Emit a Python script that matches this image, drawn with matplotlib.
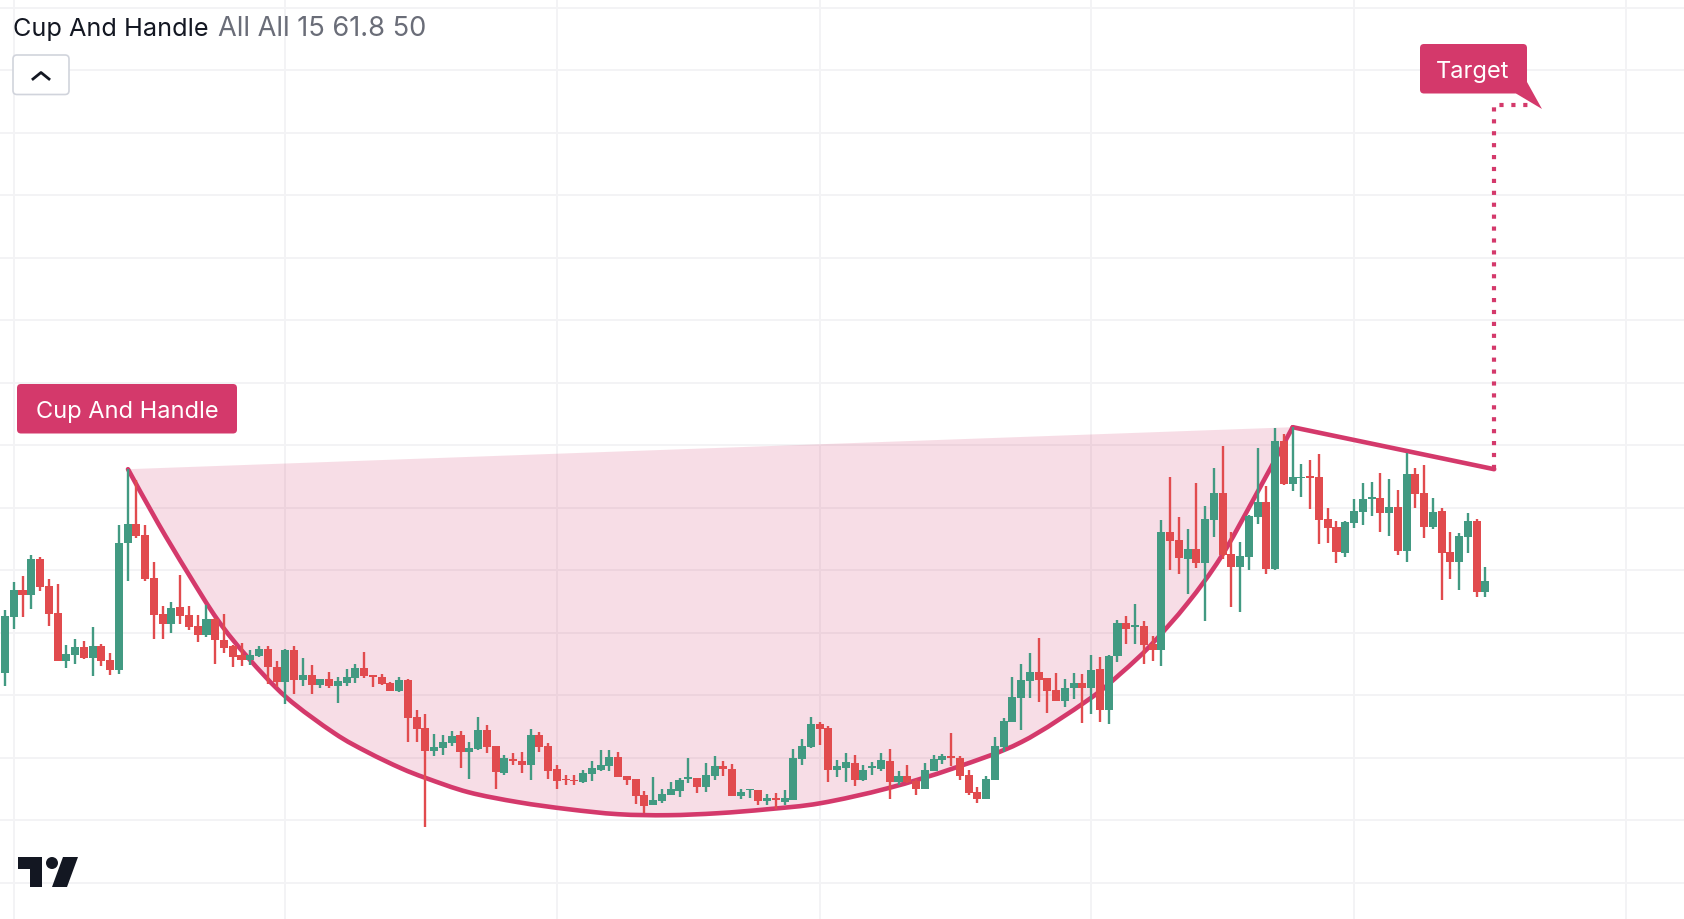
import matplotlib
matplotlib.use("Agg")
import matplotlib.pyplot as plt
from matplotlib.patches import FancyBboxPatch, Polygon, Circle, PathPatch
from matplotlib.path import Path

W, H = 1684, 920

# Candles: open, high, low, close on the chart's own price scale
opens = [247,303,330,325,361,334,307,259,265,273,262,274,260,250,377,396,385,342,306,296,313,305,294,285,301,280,274,265,260,264,
         271,253,238,270,240,245,235,241,234,237,242,252,245,243,237,229,240,203,192,169,172,177,185,168,171,190,174,147,161,159,
         155,185,174,151,141,140,138,146,150,154,163,144,141,125,115,119,125,129,141,142,133,144,154,151,124,130,130,119,122,118,
         120,161,173,196,192,150,152,157,140,152,151,159,138,144,139,131,149,160,164,162,145,128,121,140,173,198,222,239,248,242,
         230,219,232,237,232,251,210,264,297,293,294,276,270,388,380,361,371,357,400,427,366,353,363,403,418,351,479,436,442,444,
         443,401,393,367,397,408,421,422,407,413,369,446,427,393,409,368,358,383,399,328]
highs = [310,338,344,365,363,341,336,275,281,279,293,276,267,395,451,440,395,358,314,318,345,314,305,315,302,306,275,277,270,274,
         274,259,271,274,262,255,241,248,243,251,256,268,245,246,238,243,241,210,206,186,185,189,189,178,203,195,174,165,167,168,
         191,188,177,155,145,145,150,159,170,170,168,144,141,129,143,131,138,142,162,142,157,164,159,156,131,131,130,126,127,130,
         171,181,203,198,194,160,167,165,155,158,167,171,149,155,141,157,165,166,187,164,150,133,144,183,202,243,256,267,282,242,
         247,241,247,246,265,263,265,300,304,316,299,284,400,443,403,391,437,414,452,474,388,378,405,472,434,492,486,493,456,460,
         466,412,399,399,421,437,438,447,441,430,467,452,455,422,412,388,387,407,401,353]
lows = [234,291,303,311,329,294,259,252,256,261,244,254,245,246,339,382,339,281,281,287,296,290,278,283,256,267,253,254,255,263,
        236,233,216,226,234,226,232,232,217,234,237,242,233,235,229,228,178,178,93,164,165,174,152,141,170,167,131,145,155,147,
        140,168,141,131,135,135,137,139,149,149,143,135,116,107,115,117,125,123,137,127,128,140,144,124,121,122,115,115,111,115,
        120,155,172,175,138,143,138,134,139,145,149,121,135,137,125,131,149,156,154,140,125,117,121,140,168,198,190,222,218,207,
        219,213,221,197,206,198,196,258,276,276,256,259,254,350,346,326,352,299,383,361,313,308,350,396,346,350,435,429,423,411,
        376,377,357,363,392,395,404,388,384,365,358,412,382,391,320,341,330,367,323,323]
closes = [304,330,325,361,333,306,259,266,273,262,274,259,250,377,396,384,341,305,296,312,304,293,285,301,280,272,263,260,265,271,
          253,238,270,240,245,235,241,234,239,243,252,244,243,236,229,240,202,191,169,173,178,184,168,172,190,173,148,162,159,155,
          185,173,149,139,140,139,147,152,155,163,143,140,124,114,120,126,131,140,143,133,145,154,151,124,128,131,119,122,120,122,
          162,174,196,191,150,154,158,140,150,154,160,138,144,138,131,150,161,164,162,144,127,121,141,174,199,223,240,248,240,229,
          219,232,237,232,250,210,264,297,291,295,275,270,388,379,362,371,357,401,427,365,353,364,404,418,351,479,436,443,443,442,
          400,392,368,398,409,421,423,407,413,369,446,426,393,408,367,358,384,399,328,339]

# Pattern: cup curve, handle and target (bar number, price)
cup_bars = [14.04,17.47,20.89,24.3,27.7,32.1,37.6,41.4,45.2,48.1,52.9,58.6,64.3,70,75.7,81.4,87.1,93.1,100.8,108.3,116,123.6,
            127.4,130.8,135,138.8,142.6,147]
cup_prices = [451,397,347,300,263,223,187,168,152,142,128,118,111,106,105,107,111,117,132,152,178,220,247,275,317,363,422,493]
handle_bars = [147, 170]
handle_prices = [493, 451]
target_bars = [170, 170, 174.4]
target_prices = [451, 815, 815]

# Grid
grid_bars = [1, 32, 63, 93, 124, 154, 185]
grid_prices = [37.5, 100, 162.5, 225, 287.5, 350, 412.5, 475, 537.5, 600, 662.5, 725, 787.5, 850, 912.5]

# Text
title = "Cup And Handle"
params = "All All 15 61.8 50"
label_pattern = "Cup And Handle"
label_target = "Target"

GREEN, RED = "#429A82", "#E14B4E"
PINK = "#D4396B"
GRID = "#F3F3F5"
INK = "#131722"

plt.rcParams["font.family"] = ["Inter", "DejaVu Sans"]
fig = plt.figure(figsize=(W / 100, H / 100), dpi=100)
ax = fig.add_axes([0, 0, 1, 1])
ax.set_xlim(-0.57, 191.67)
ax.set_ylim(1.2, 921.2)
ax.set_xticks(grid_bars)
ax.set_yticks(grid_prices)
ax.tick_params(length=0, labelleft=False, labelbottom=False)
ax.grid(True, color=GRID, lw=1.4, zorder=0)
ax.set_axisbelow(True)
for s in ax.spines.values():
    s.set_visible(False)


def smooth_path(xs, ys, close=False):
    """Smooth curve through the read points, as cubic Bezier segments."""
    pts = list(zip(xs, ys))
    verts = [pts[0]]
    codes = [Path.MOVETO]
    n = len(pts)
    for i in range(n - 1):
        p0 = pts[max(i - 1, 0)]
        p1 = pts[i]
        p2 = pts[i + 1]
        p3 = pts[min(i + 2, n - 1)]
        c1 = (p1[0] + (p2[0] - p0[0]) / 6, p1[1] + (p2[1] - p0[1]) / 6)
        c2 = (p2[0] - (p3[0] - p1[0]) / 6, p2[1] - (p3[1] - p1[1]) / 6)
        verts += [c1, c2, p2]
        codes += [Path.CURVE4] * 3
    if close:
        verts.append(pts[0])
        codes.append(Path.CLOSEPOLY)
    return Path(verts, codes)


# Pattern area
ax.add_patch(PathPatch(smooth_path(cup_bars, cup_prices, close=True), fc=PINK, alpha=0.17, lw=0, zorder=1))
ax.add_patch(PathPatch(smooth_path(cup_bars, cup_prices), fc="none", ec=PINK, lw=3.3, zorder=2, capstyle="round"))
ax.plot(handle_bars, handle_prices, color=PINK, lw=3.3, solid_capstyle="round", zorder=2)
ax.plot(target_bars, target_prices, color=PINK, lw=3.0, linestyle=(0, (1, 1.86)), dash_capstyle="butt", zorder=2)

# Candles
bars = list(range(len(opens)))
cols = [GREEN if c >= o else RED for o, c in zip(opens, closes)]
ax.vlines(bars, lows, highs, colors=cols, lw=1.7, zorder=3)
bottoms = [min(o, c) for o, c in zip(opens, closes)]
heights = [max(abs(c - o), 1.5) for o, c in zip(opens, closes)]
ax.bar(bars, heights, bottom=bottoms, width=0.92, color=cols, lw=0, zorder=3)

ov = fig.add_axes([0, 0, 1, 1], facecolor="none")
ov.set_xlim(0, W)
ov.set_ylim(H, 0)
ov.axis("off")

# Header
ov.text(13, 36, title, fontsize=18.2, color=INK, va="baseline", ha="left", zorder=10)
ov.text(217.5, 36, params, fontsize=19.6, color="#6A6D78", va="baseline", ha="left", zorder=10)

# Collapse button
ov.add_patch(FancyBboxPatch((13, 56), 56, 39.5, boxstyle="round,pad=0,rounding_size=4",
                            fc="white", ec="#D1D4DC", lw=1.2, zorder=9))
ov.plot([33, 41, 49], [80, 73.5, 80], color=INK, lw=2.0, zorder=10)

# Pattern label
ov.add_patch(FancyBboxPatch((17, 385), 220, 49.5, boxstyle="round,pad=0,rounding_size=4",
                            fc=PINK, ec="none", zorder=9))
ov.text(127, 412, label_pattern, fontsize=17.0, color="white", ha="center", va="center", zorder=10)

# Target label
ov.add_patch(FancyBboxPatch((1420, 45), 107, 49.5, boxstyle="round,pad=0,rounding_size=4",
                            fc=PINK, ec="none", zorder=9))
ov.add_patch(Polygon([(1527, 83), (1542, 110), (1516, 94.5)], closed=True, fc=PINK, ec="none", zorder=9))
ov.text(1473, 72, label_target, fontsize=17.0, color="white", ha="center", va="center", zorder=10)

# Logo
ov.add_patch(Polygon([(18, 858), (42, 858), (42, 888), (30, 888), (30, 870), (18, 870)], closed=True, fc=INK, ec="none", zorder=10))
ov.add_patch(Circle((52, 864), 6, fc=INK, ec="none", zorder=10))
ov.add_patch(Polygon([(63, 858), (78, 858), (67, 888), (52, 888)], closed=True, fc=INK, ec="none", zorder=10))

fig.savefig("out.png", dpi=100, facecolor="white")
